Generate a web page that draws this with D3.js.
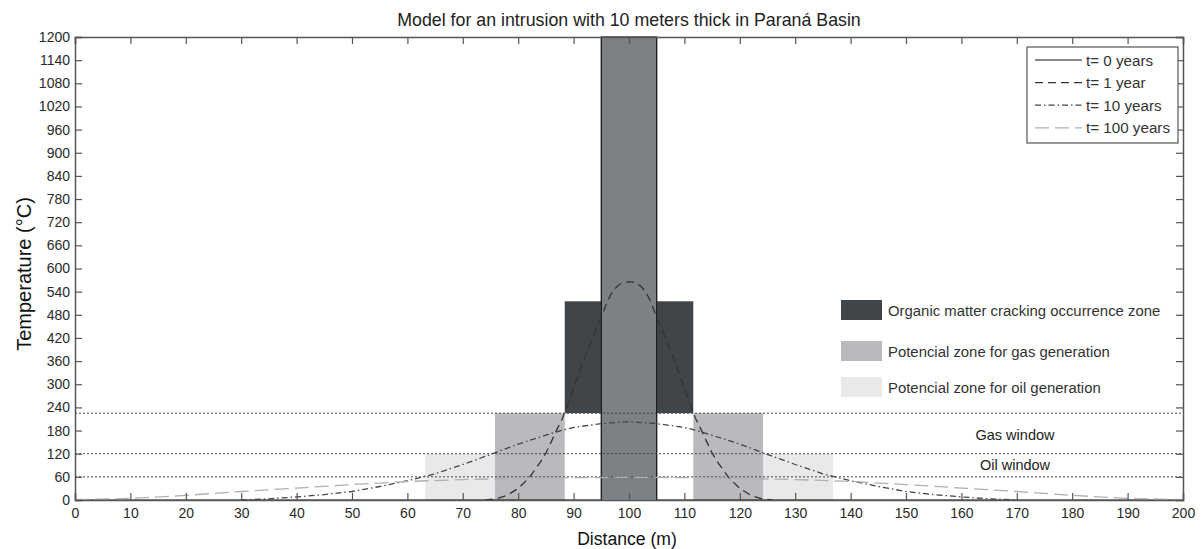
<!DOCTYPE html>
<html><head><meta charset="utf-8">
<script src="https://cdn.jsdelivr.net/npm/d3@7"></script>
<style>
body{margin:0;background:#fff;}
text{font-family:"Liberation Sans",Arial,sans-serif;}
</style></head>
<body><svg id="c" width="1203" height="549"></svg>
<script>
// ---- data ----
const title = "Model for an intrusion with 10 meters thick in Paraná Basin";
const xTicks = d3.range(0, 201, 10);
const yTicks = d3.range(0, 1201, 60);
// half profiles (x from left edge to centre), mirrored about x = 100
const t0X = [0, 95, 95, 105, 105, 200];
const t0T = [0, 0, 1200, 1200, 0, 0];
const t1X = [74, 76, 78, 80, 82, 84, 85, 86, 87, 88, 89, 90, 91, 92, 93, 94, 95, 96, 97, 98, 99, 100];
const t1T = [0, 3, 12, 30, 58, 98, 122, 152, 183, 212, 250, 290, 330, 368, 405, 440, 472, 512, 540, 556, 564, 566];
const t10X = [30, 35, 40, 45, 50, 55, 60, 65, 70, 75, 80, 85, 88, 90, 95, 100];
const t10T = [0, 3, 8, 14, 22, 35, 50, 68, 92, 118, 145, 168, 181, 188, 198, 203];
const t100X = [0, 10, 20, 30, 40, 50, 60, 70, 80, 90, 100];
const t100T = [1, 4, 12, 22, 31, 40, 48, 53, 56, 58, 59];
const windowLevels = [225, 120, 60];
const windowLabels = [{name:"Gas window", lo:120, hi:225}, {name:"Oil window", lo:60, hi:120}];
// zone rectangles [x0, x1, T0, T1]
const intrusion = [95, 105, 0, 1200];
const crackZones = [[88.4, 95, 225, 515], [105, 111.6, 225, 515]];
const gasZones = [[75.8, 88.4, 0, 225], [111.6, 124.2, 0, 225]];
const oilZones = [[63.2, 75.8, 0, 120], [124.2, 136.8, 0, 120]];
const seriesNames = ["t= 0 years", "t= 1 year", "t= 10 years", "t= 100 years"];
const zoneNames = ["Organic matter cracking occurrence zone", "Potencial zone for gas generation", "Potencial zone for oil generation"];

function mirror(xs, ts){
  const pts = xs.map((x,i)=>[x, ts[i]]);
  const right = xs.slice().reverse().filter(x=>x!==100).map((x)=>[200-x, ts[xs.indexOf(x)]]);
  return pts.concat(right);
}

// ---- layout ----
const M = {l:75, t:37, r:1183, b:500};
const svg = d3.select("#c");
const x = d3.scaleLinear().domain([0,200]).range([M.l, M.r]);
const y = d3.scaleLinear().domain([0,1200]).range([M.b, M.t]);
const colDark="#3f4548", colInt="#7c8186", colGas="#b9babd", colOil="#e8e9eb";

const g = svg.append("g");
function rect(r, fill, stroke){
  g.append("rect").attr("x", x(r[0])).attr("y", y(r[3]))
   .attr("width", x(r[1])-x(r[0])).attr("height", y(r[2])-y(r[3]))
   .attr("fill", fill).attr("stroke", stroke||"none");
}
oilZones.forEach(r=>rect(r, colOil));
gasZones.forEach(r=>rect(r, colGas));
crackZones.forEach(r=>rect(r, colDark));
rect(intrusion, colInt, "#9a9ea2");

// dotted window lines
g.selectAll(".win").data(windowLevels).enter().append("line")
 .attr("x1", M.l).attr("x2", M.r).attr("y1", d=>y(d)).attr("y2", d=>y(d))
 .attr("stroke", "#444").attr("stroke-width", 1).attr("stroke-dasharray", "2,2");
windowLabels.forEach((w,i)=>{
  g.append("text").attr("x", 1015).attr("y", (y(w.lo)+y(w.hi))/2 + (i===0?7:5))
   .attr("text-anchor","middle").attr("font-size", 14.5).attr("fill","#222").text(w.name);
});

const line = d3.line().x(d=>x(d[0])).y(d=>y(d[1]));
const curves = [
  {pts: t0X.map((v,i)=>[v,t0T[i]]), stroke:"#111", dash:null, w:1.2},
  {pts: mirror(t1X, t1T), stroke:"#333", dash:"8,5", w:1.3},
  {pts: mirror(t10X, t10T), stroke:"#444", dash:"6,3,1.5,3", w:1.3},
  {pts: mirror(t100X, t100T), stroke:"#b0b0b0", dash:"14,6", w:1.3}
];
curves.forEach(c=>{
  g.append("path").attr("d", line(c.pts)).attr("fill","none")
   .attr("stroke", c.stroke).attr("stroke-width", c.w)
   .attr("stroke-dasharray", c.dash);
});

// axes (inward ticks, mirrored)
const axCol = "#555";
const fmt = d3.format("d");
const ax = svg.append("g");
ax.append("g").attr("transform",`translate(0,${M.b})`)
  .call(d3.axisBottom(x).tickValues(xTicks).tickSize(-7).tickPadding(8).tickFormat(fmt));
ax.append("g").attr("transform",`translate(0,${M.t})`)
  .call(d3.axisTop(x).tickValues(xTicks).tickSize(-7).tickFormat(""));
ax.append("g").attr("transform",`translate(${M.l},0)`)
  .call(d3.axisLeft(y).tickValues(yTicks).tickSize(-7).tickPadding(5).tickFormat(fmt));
ax.append("g").attr("transform",`translate(${M.r},0)`)
  .call(d3.axisRight(y).tickValues(yTicks).tickSize(-7).tickFormat(""));
ax.selectAll(".domain").attr("stroke", axCol).attr("stroke-width", 1.5);
ax.selectAll(".tick line").attr("stroke", axCol).attr("stroke-width", 1.2);
ax.selectAll(".tick text").attr("font-size", 14).attr("fill", "#2a2a2a")
  .attr("font-family","'Liberation Sans',Arial,sans-serif");

// titles
svg.append("text").attr("x", 629).attr("y", 26).attr("text-anchor","middle")
  .attr("font-size", 17.8).attr("fill","#222").text(title);
svg.append("text").attr("x", 627).attr("y", 545).attr("text-anchor","middle")
  .attr("font-size", 17.6).attr("fill","#111").text("Distance (m)");
svg.append("text").attr("transform","translate(31,274) rotate(-90)").attr("text-anchor","middle")
  .attr("font-size", 20).attr("fill","#111").text("Temperature (°C)");

// series legend
const lg = svg.append("g");
lg.append("rect").attr("x",1027).attr("y",47).attr("width",151).attr("height",96)
  .attr("fill","#fff").attr("stroke","#555").attr("stroke-width",1.2);
seriesNames.forEach((n,i)=>{
  const yy = 60 + i*22.6;
  const c = curves[i];
  lg.append("line").attr("x1",1035).attr("x2",1082).attr("y1",yy).attr("y2",yy)
    .attr("stroke", c.stroke).attr("stroke-width", c.w).attr("stroke-dasharray", c.dash);
  lg.append("text").attr("x",1086).attr("y",yy+5.5).attr("font-size",15.2).attr("fill","#333").text(n);
});

// zone legend
const zl = svg.append("g");
const zCols = [colDark, colGas, colOil];
const zY = [300, 341, 377];
zoneNames.forEach((n,i)=>{
  zl.append("rect").attr("x",841).attr("y",zY[i]).attr("width",41).attr("height",20).attr("fill",zCols[i]);
  zl.append("text").attr("x",888).attr("y",zY[i]+15.5).attr("font-size",14.9).attr("fill","#333").text(n);
});
</script></body></html>
